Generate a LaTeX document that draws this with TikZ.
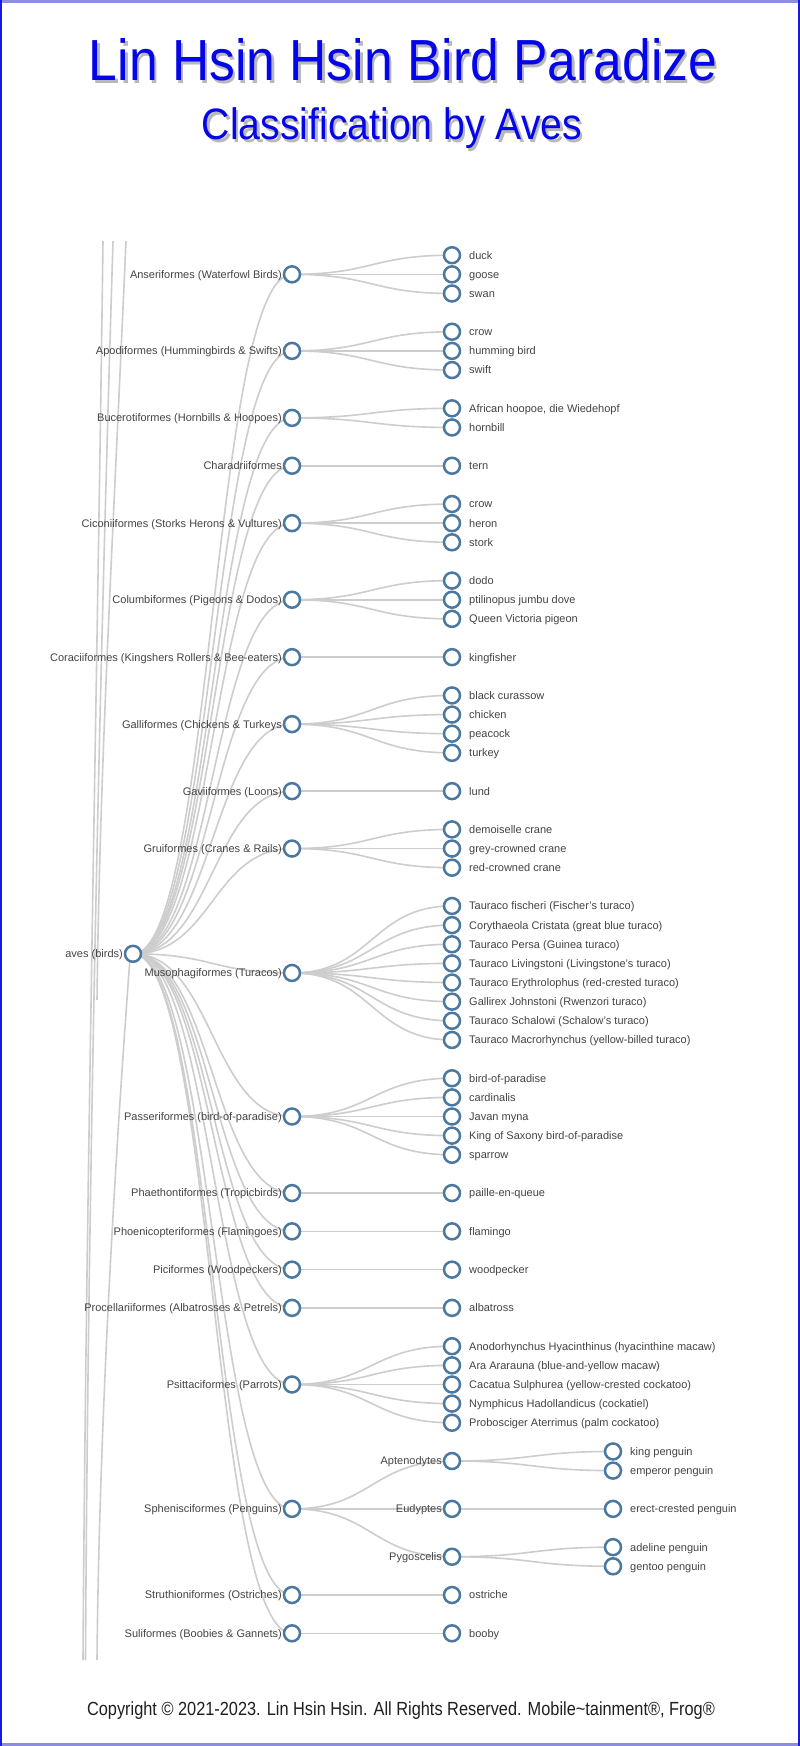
\documentclass[tikz,border=0pt]{standalone}
\usepackage{fontspec}
\setmainfont{Liberation Sans}
\usepackage{graphicx}
\usetikzlibrary{calc}
\pgfdeclarelayer{back}
\pgfdeclarelayer{bg}
\pgfsetlayers{back,bg,main}
\definecolor{ringc}{RGB}{75,120,160}
\definecolor{linkc}{RGB}{205,205,205}
\definecolor{txtc}{RGB}{68,68,68}
\definecolor{titlec}{RGB}{5,5,235}
\definecolor{framec}{RGB}{25,25,230}
\definecolor{framelt}{RGB}{140,140,225}
\newcommand\yk[1]{255.2+19.14*#1}
\tikzset{
 dot/.style={circle, draw=ringc, fill=white, line width=2.5pt, minimum size=16pt, inner sep=0pt},
 lbl/.style={inner sep=0pt, text=txtc, font=\fontsize{11}{13}\selectfont},
 lblR/.style={lbl, anchor=base west},
 lblL/.style={lbl, anchor=base east},
 link/.style={draw=linkc, line width=1.6pt},
 ghost/.style={draw=linkc, line width=1.6pt},
 ttl/.style={anchor=base, inner sep=0pt, text=titlec},
 ttlshadow/.style={anchor=base, inner sep=0pt, text=black, opacity=0.28},
}
\newcommand\nodeR[4]{\node[dot] (#1) at (#2,\yk{#3}) {}; \node[lblR] (#1-t) at ([xshift=17pt,yshift=-3.9pt]#1.center) {#4};}
\newcommand\nodeL[4]{\node[dot] (#1) at (#2,\yk{#3}) {}; \node[lblL] (#1-t) at ([xshift=-10pt,yshift=-3.9pt]#1.center) {#4};}
\newcommand\lnk[2]{\draw[link] (#1.center) .. controls ($(#1.center)!0.5!(#1.center -| #2.center)$) and ($(#1.center |- #2.center)!0.5!(#2.center)$) .. (#2.center);}
\newcommand\ttltext{\fontsize{58}{60}\selectfont\scalebox{0.89}[1]{Lin Hsin Hsin Bird Paradize}}
\newcommand\subtext{\fontsize{44}{46}\selectfont\scalebox{0.89}[1]{Classification by Aves}}
\begin{document}
\begin{tikzpicture}[x=1pt,y=-1pt]
\useasboundingbox (0,0) rectangle (800,1746);
\begin{pgfonlayer}{back}
\fill[white] (0,0) rectangle (800,1746);
\end{pgfonlayer}
% frame
\fill[framelt] (0,0) rectangle (800,2.5);
\fill[framelt] (0,1743.3) rectangle (800,1746);
\fill[framec] (0,0) rectangle (2.2,1746);
\fill[framec] (797.6,0) rectangle (800,1746);
% titles with soft shadow
\node[ttlshadow] (title-s) at (405.5,83.5) {\ttltext};
\node[ttlshadow] (subtitle-s) at (394.5,142.5) {\subtext};
\node[ttl] (title) at (403,80) {\ttltext};
\node[ttl] (subtitle) at (392,139) {\subtext};
% root
\nodeL{r}{133}{36.5}{aves (birds)}
% orders
\nodeL{o1}{292}{1}{Anseriformes (Waterfowl Birds)}
\nodeL{o2}{292}{5}{Apodiformes (Hummingbirds \& Swifts)}
\nodeL{o3}{292}{8.5}{Bucerotiformes (Hornbills \& Hoopoes)}
\nodeL{o4}{292}{11}{Charadriiformes}
\nodeL{o5}{292}{14}{Ciconiiformes (Storks Herons \& Vultures)}
\nodeL{o6}{292}{18}{Columbiformes (Pigeons \& Dodos)}
\nodeL{o7}{292}{21}{Coraciiformes (Kingshers Rollers \& Bee-eaters)}
\nodeL{o8}{292}{24.5}{Galliformes (Chickens \& Turkeys}
\nodeL{o9}{292}{28}{Gaviiformes (Loons)}
\nodeL{o10}{292}{31}{Gruiformes (Cranes \& Rails)}
\nodeL{o11}{292}{37.5}{Musophagiformes (Turacos)}
\nodeL{o12}{292}{45}{Passeriformes (bird-of-paradise)}
\nodeL{o13}{292}{49}{Phaethontiformes (Tropicbirds)}
\nodeL{o14}{292}{51}{Phoenicopteriformes (Flamingoes)}
\nodeL{o15}{292}{53}{Piciformes (Woodpeckers)}
\nodeL{o16}{292}{55}{Procellariiformes (Albatrosses \& Petrels)}
\nodeL{o17}{292}{59}{Psittaciformes (Parrots)}
\nodeL{o18}{292}{65.5}{Sphenisciformes (Penguins)}
\nodeL{o19}{292}{70}{Struthioniformes (Ostriches)}
\nodeL{o20}{292}{72}{Suliformes (Boobies \& Gannets)}
% species
\nodeR{o1a}{452}{0}{duck}
\nodeR{o1b}{452}{1}{goose}
\nodeR{o1c}{452}{2}{swan}
\nodeR{o2a}{452}{4}{crow}
\nodeR{o2b}{452}{5}{humming bird}
\nodeR{o2c}{452}{6}{swift}
\nodeR{o3a}{452}{8}{African hoopoe, die Wiedehopf}
\nodeR{o3b}{452}{9}{hornbill}
\nodeR{o4a}{452}{11}{tern}
\nodeR{o5a}{452}{13}{crow}
\nodeR{o5b}{452}{14}{heron}
\nodeR{o5c}{452}{15}{stork}
\nodeR{o6a}{452}{17}{dodo}
\nodeR{o6b}{452}{18}{ptilinopus jumbu dove}
\nodeR{o6c}{452}{19}{Queen Victoria pigeon}
\nodeR{o7a}{452}{21}{kingfisher}
\nodeR{o8a}{452}{23}{black curassow}
\nodeR{o8b}{452}{24}{chicken}
\nodeR{o8c}{452}{25}{peacock}
\nodeR{o8d}{452}{26}{turkey}
\nodeR{o9a}{452}{28}{lund}
\nodeR{o10a}{452}{30}{demoiselle crane}
\nodeR{o10b}{452}{31}{grey-crowned crane}
\nodeR{o10c}{452}{32}{red-crowned crane}
\nodeR{o11a}{452}{34}{Tauraco fischeri (Fischer's turaco)}
\nodeR{o11b}{452}{35}{Corythaeola Cristata (great blue turaco)}
\nodeR{o11c}{452}{36}{Tauraco Persa (Guinea turaco)}
\nodeR{o11d}{452}{37}{Tauraco Livingstoni (Livingstone's turaco)}
\nodeR{o11e}{452}{38}{Tauraco Erythrolophus (red-crested turaco)}
\nodeR{o11f}{452}{39}{Gallirex Johnstoni (Rwenzori turaco)}
\nodeR{o11g}{452}{40}{Tauraco Schalowi (Schalow's turaco)}
\nodeR{o11h}{452}{41}{Tauraco Macrorhynchus (yellow-billed turaco)}
\nodeR{o12a}{452}{43}{bird-of-paradise}
\nodeR{o12b}{452}{44}{cardinalis}
\nodeR{o12c}{452}{45}{Javan myna}
\nodeR{o12d}{452}{46}{King of Saxony bird-of-paradise}
\nodeR{o12e}{452}{47}{sparrow}
\nodeR{o13a}{452}{49}{paille-en-queue}
\nodeR{o14a}{452}{51}{flamingo}
\nodeR{o15a}{452}{53}{woodpecker}
\nodeR{o16a}{452}{55}{albatross}
\nodeR{o17a}{452}{57}{Anodorhynchus Hyacinthinus (hyacinthine macaw)}
\nodeR{o17b}{452}{58}{Ara Ararauna (blue-and-yellow macaw)}
\nodeR{o17c}{452}{59}{Cacatua Sulphurea (yellow-crested cockatoo)}
\nodeR{o17d}{452}{60}{Nymphicus Hadollandicus (cockatiel)}
\nodeR{o17e}{452}{61}{Probosciger Aterrimus (palm cockatoo)}
\nodeL{o18a}{452}{63}{Aptenodytes}
\nodeL{o18b}{452}{65.5}{Eudyptes}
\nodeL{o18c}{452}{68}{Pygoscelis}
\nodeR{o19a}{452}{70}{ostriche}
\nodeR{o20a}{452}{72}{booby}
\nodeR{o18a1}{613}{62.5}{king penguin}
\nodeR{o18a2}{613}{63.5}{emperor penguin}
\nodeR{o18b1}{613}{65.5}{erect-crested penguin}
\nodeR{o18c1}{613}{67.5}{adeline penguin}
\nodeR{o18c2}{613}{68.5}{gentoo penguin}
% copyright
\node[anchor=base, inner sep=0pt, text=black!88] (copy) at (401,1715) {\fontsize{19}{21}\selectfont\scalebox{0.86}[1]{Copyright © 2021-2023. Lin Hsin Hsin. All Rights Reserved. Mobile\textasciitilde tainment®, Frog®}};
\begin{pgfonlayer}{bg}
\foreach \c in {o1,o2,o3,o4,o5,o6,o7,o8,o9,o10,o11,o12,o13,o14,o15,o16,o17,o18,o19,o20}{\lnk{r}{\c}}
\foreach \p/\c in {o1/o1a,o1/o1b,o1/o1c,o2/o2a,o2/o2b,o2/o2c,o3/o3a,o3/o3b,o4/o4a,o5/o5a,o5/o5b,o5/o5c,o6/o6a,o6/o6b,o6/o6c,o7/o7a,o8/o8a,o8/o8b,o8/o8c,o8/o8d,o9/o9a,o10/o10a,o10/o10b,o10/o10c,o11/o11a,o11/o11b,o11/o11c,o11/o11d,o11/o11e,o11/o11f,o11/o11g,o11/o11h,o12/o12a,o12/o12b,o12/o12c,o12/o12d,o12/o12e,o13/o13a,o14/o14a,o15/o15a,o16/o16a,o17/o17a,o17/o17b,o17/o17c,o17/o17d,o17/o17e,o18/o18a,o18/o18b,o18/o18c,o19/o19a,o20/o20a,o18a/o18a1,o18a/o18a2,o18b/o18b1,o18c/o18c1,o18c/o18c2}{\lnk{\p}{\c}}
% partial links of the wider tree, cut by the view
\draw[ghost] (103,241) .. controls (97,700) and (86,1200) .. (83,1660);
\draw[ghost] (113,241) .. controls (99,700) and (88,1200) .. (85.5,1660);
\draw[ghost] (126,241) .. controls (112,560) and (100,760) .. (97,1000);
\draw[ghost] (130,958) .. controls (112,1200) and (99,1450) .. (97,1660);
\end{pgfonlayer}
\end{tikzpicture}
\end{document}
